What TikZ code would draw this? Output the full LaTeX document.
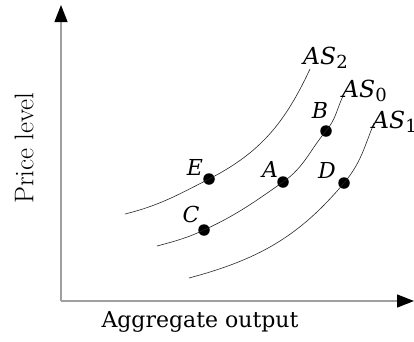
\documentclass[tikz,border=0pt]{standalone}
\usepackage{fontspec}
\newfontfamily\dejavu{DejaVu Serif}
\usetikzlibrary{arrows.meta}

\newcommand{\curvename}[1]{\textit{AS}\raisebox{-0.4ex}{\fontsize{18}{18}\selectfont #1}}

\begin{document}
\begin{tikzpicture}[x=1pt, y=-1pt,
    axis/.style={draw=gray!75, line width=1.3pt, -{Triangle[width=13pt, length=17pt, color=black]}},
    curve/.style={draw=black!85, line width=0.6pt},
    dot/.style={circle, fill=black, inner sep=0pt, minimum size=11.5pt},
    ptlabel/.style={font=\dejavu\itshape\fontsize{22}{22}\selectfont, inner sep=0pt, anchor=base},
    aslabel/.style={font=\dejavu\fontsize{23.5}{23.5}\selectfont, inner sep=0pt, anchor=base west}
]
\useasboundingbox (0,0) rectangle (414,341);

% Axes
\coordinate (origin) at (61,301);
\coordinate (ytop) at (61,5);
\coordinate (xend) at (414,301);
\draw[axis] (origin) -- (ytop);
\draw[axis] (origin) -- (xend);
\node[rotate=90, font=\fontsize{27}{27}\selectfont] (ylabel) at (24,148) {Price level};
\node[font=\dejavu\fontsize{22}{22}\selectfont] (xlabel) at (200,322) {Aggregate output};

% Points
\node[dot] (E) at (209,179) {};
\node[dot] (C) at (204,230) {};
\node[dot] (A) at (283,182) {};
\node[dot] (B) at (326,131) {};
\node[dot] (D) at (344,183) {};

\node[ptlabel] (Elab) at (195,175) {E};
\node[ptlabel] (Clab) at (191,222) {C};
\node[ptlabel] (Alab) at (270,177) {A};
\node[ptlabel] (Blab) at (320,118) {B};
\node[ptlabel] (Dlab) at (327,178) {D};

% Curve ends
\coordinate (as2a) at (125,214);
\coordinate (as2b) at (310,69);
\coordinate (as0a) at (157,246);
\coordinate (as0b) at (343,96);
\coordinate (as1a) at (189,278);
\coordinate (as1b) at (374,123);

% AS curves
\draw[curve] (as2a) to[out=14,in=207] (E.center) to[out=27,in=245] (as2b);
\draw[curve] (as0a) to[out=15,in=205] (C.center) to[out=25,in=215] (A.center)
    to[out=35,in=230] (B.center) to[out=50,in=245] (as0b);
\draw[curve] (as1a) to[out=15,in=230] (D.center) to[out=50,in=248] (as1b);

% Curve names
\node[aslabel] (as2name) at (303,64) {\curvename{2}};
\node[aslabel] (as0name) at (342,97) {\curvename{0}};
\node[aslabel] (as1name) at (372,128) {\curvename{1}};

\end{tikzpicture}
\end{document}
